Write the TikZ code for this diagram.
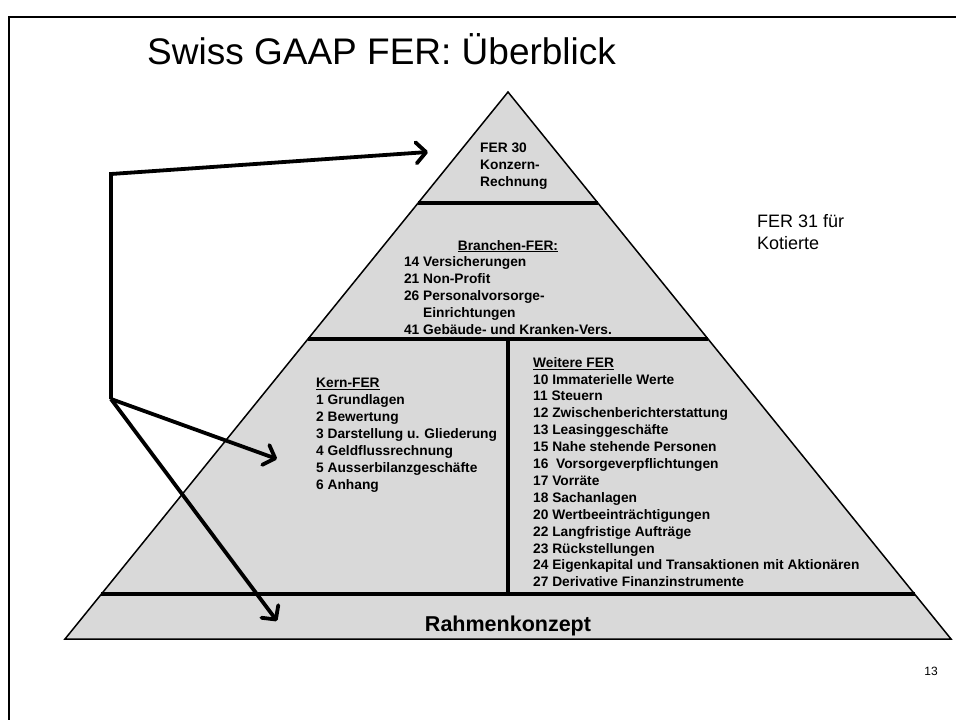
\documentclass[tikz,border=0pt]{standalone}
\usepackage{fontspec}
\setmainfont{Liberation Sans}
\usetikzlibrary{arrows.meta,calc}

\begin{document}
\begin{tikzpicture}[x=1pt,y=-1pt,
  layer/.style={draw,line width=1.5pt,fill=gray!30},
  split/.style={line width=3.6pt},
  link/.style={line width=3.8pt,-{Straight Barb[length=10pt,width=21pt,round]}},
  fer/.style={inner sep=0pt,align=left,anchor=north west,font=\fontsize{13.75}{16.9}\selectfont\bfseries}]
\useasboundingbox (0,0) rectangle (956,720);
\draw[line width=1.5pt] (9,720) -- (9,17) -- (956,17);
\node[anchor=base west,inner sep=0pt,font=\fontsize{37}{44}\selectfont] (title) at (147,64) {Swiss GAAP FER: Überblick};

% pyramid and its layers
\coordinate (apex) at (508,92);
\coordinate (bl) at (65,639);
\coordinate (br) at (951,639);
\draw[layer] (apex) -- (br) -- (bl) -- cycle;
\draw[split] ($(apex)!0.203!(bl)$) -- ($(apex)!0.203!(br)$);
\draw[split] ($(apex)!0.4516!(bl)$) -- ($(apex)!0.4516!(br)$);
\draw[split] ($(apex)!0.9177!(bl)$) -- ($(apex)!0.9177!(br)$);
\draw[split] (508,339) -- (508,594);

\node[fer] (konzern) at (480,143) {FER 30\\Konzern-\\Rechnung};
\node[fer,anchor=north] (branchen) at (508,238) {\begin{tabular}{@{}l@{ }l@{}}
  \multicolumn{2}{c}{\underline{Branchen-FER:}}\\
  14 & Versicherungen\\
  21 & Non-Profit\\
  26 & Personalvorsorge-\\
     & Einrichtungen\\
  41 & Gebäude- und Kranken-Vers.
\end{tabular}};
\node[fer] (kern) at (316,378) {\underline{Kern-FER}\\1 Grundlagen\\2 Bewertung\\3 Darstellung u. Gliederung\\4 Geldflussrechnung\\5 Ausserbilanzgeschäfte\\6 Anhang};
\node[fer] (weitere) at (533,357) {\underline{Weitere FER}\\10 Immaterielle Werte\\11 Steuern\\12 Zwischenberichterstattung\\13 Leasinggeschäfte\\15 Nahe stehende Personen\\16\ \ Vorsorgeverpflichtungen\\17 Vorräte\\18 Sachanlagen\\20 Wertbeeinträchtigungen\\22 Langfristige Aufträge\\23 Rückstellungen\\24 Eigenkapital und Transaktionen mit Aktionären\\27 Derivative Finanzinstrumente};
\node[anchor=base,inner sep=0pt,font=\fontsize{21.5}{26}\selectfont\bfseries] (rahmen) at (508,631) {Rahmenkonzept};

\node[anchor=north west,inner sep=0pt,align=left,font=\fontsize{18}{22}\selectfont] (kotiert) at (757,214) {FER 31 für\\Kotierte};
\node[anchor=base east,inner sep=0pt,font=\fontsize{12}{14}\selectfont] (page) at (938,675) {13};

% arrows from the left
\coordinate (hubtop) at (111,174);
\coordinate (hubbot) at (111,399);
\coordinate (tipkonzern) at (428,152);
\coordinate (tipkern) at (277,459);
\coordinate (tiprahmen) at (277,621);
\draw[link] (hubbot) -- (hubtop) -- (tipkonzern);
\draw[link] (hubbot) -- (tipkern);
\draw[link] (hubbot) -- (tiprahmen);
\end{tikzpicture}
\end{document}
